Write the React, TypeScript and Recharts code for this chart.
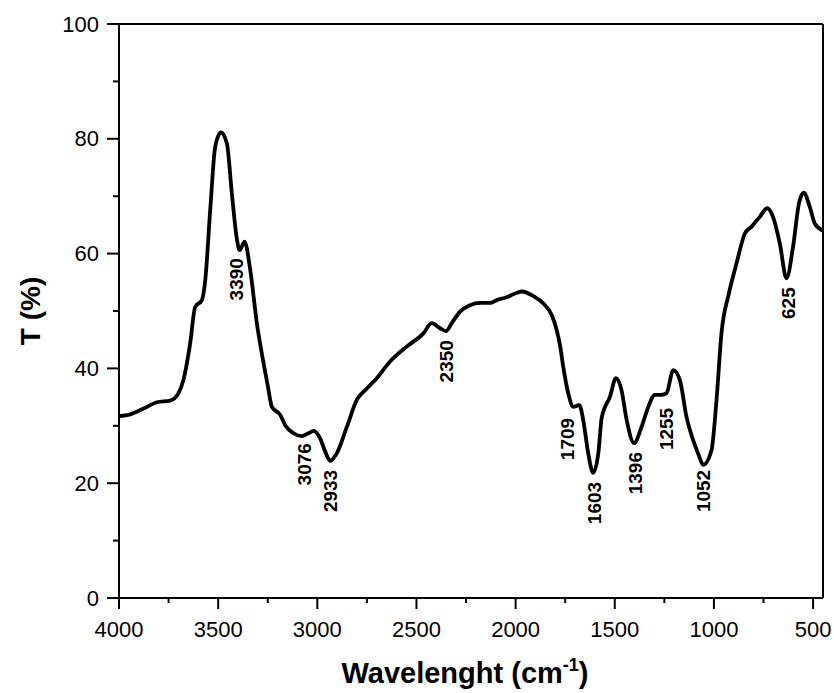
import React from "react";
import { LineChart, Line, XAxis, YAxis, ReferenceLine, ReferenceDot } from "recharts";

// FTIR spectrum
const wavenumber = [
  4000, 3943, 3876, 3809, 3741, 3700, 3675, 3641, 3616, 3582, 3565, 3540, 3515, 3486, 3456, 3431,
  3405, 3392, 3367, 3338, 3305, 3271, 3250, 3229, 3187, 3162, 3120, 3078, 3045, 3019, 2986, 2960,
  2935, 2902, 2851, 2801, 2750, 2700, 2633, 2549, 2465, 2423, 2381, 2351, 2322, 2280, 2230, 2179,
  2129, 2095, 2045, 2012, 1969, 1911, 1860, 1818, 1793, 1776, 1760, 1735, 1709, 1679, 1659, 1634,
  1609, 1583, 1566, 1524, 1494, 1466, 1440, 1403, 1365, 1331, 1298, 1264, 1239, 1205, 1172, 1138,
  1105, 1080, 1054, 1012, 987, 962, 925, 886, 844, 810, 769, 732, 702, 668, 634, 601, 571, 547, 517,
  491, 450,
];
const transmittance = [
  31.7, 32.0, 33.0, 34.1, 34.4, 35.7, 38.0, 44.4, 50.7, 51.9, 55.4, 67.6, 78.6, 81.1, 79.2, 70.5,
  62.4, 60.6, 62.1, 57.1, 47.9, 40.9, 37.0, 33.3, 31.9, 30.1, 28.7, 28.2, 28.7, 29.1, 27.8, 25.5,
  23.9, 25.2, 29.8, 34.5, 36.5, 38.3, 41.2, 43.8, 46.1, 47.9, 47.0, 46.5, 47.9, 49.9, 51.0, 51.4,
  51.4, 51.9, 52.4, 52.9, 53.4, 52.6, 51.3, 49.3, 46.7, 44.0, 40.3, 35.7, 33.3, 33.6, 31.0, 25.2,
  21.8, 25.2, 31.4, 35.1, 38.3, 36.2, 31.0, 27.0, 29.8, 33.3, 35.4, 35.4, 35.7, 39.7, 38.0, 31.5,
  27.5, 25.2, 23.2, 25.8, 34.5, 46.1, 53.0, 58.3, 63.5, 64.7, 66.4, 67.9, 66.4, 61.8, 55.7, 61.2,
  68.8, 70.6, 68.2, 65.2, 64.0,
];

const peakLabels = ["3390", "3076", "2933", "2350", "1709", "1603", "1396", "1255", "1052", "625"];
const peakWavenumber = [3390, 3076, 2933, 2350, 1709, 1603, 1396, 1255, 1052, 625];
const peakTransmittance = [60.6, 28.2, 23.9, 46.5, 33.3, 21.8, 27.0, 35.4, 23.2, 55.7];

const xTicks = [4000, 3750, 3500, 3250, 3000, 2750, 2500, 2250, 2000, 1750, 1500, 1250, 1000, 750, 500];
const yTicks = [0, 10, 20, 30, 40, 50, 60, 70, 80, 90, 100];

const data = wavenumber.map((wn, i) => ({ wn, t: transmittance[i] }));

const FONT = "'Liberation Sans', Arial, sans-serif";

// small nudges so labels sit where the original author put them
const labelShift: Record<string, [number, number]> = {
  "3390": [-3, 8],
  "3076": [2, 7],
  "1709": [-6, 11],
  "1255": [3, 13],
  "1052": [0, 5],
};

function XTick(props: any) {
  const { x, y, payload } = props;
  const major = payload.value % 500 === 0;
  return (
    <g>
      <line x1={x} y1={y} x2={x} y2={y + (major ? 11 : 5)} stroke="#000" strokeWidth={2} />
      {major && (
        <text x={x} y={y + 31} textAnchor="middle" dominantBaseline="central" fontSize={22} fontFamily={FONT} fill="#000">
          {payload.value}
        </text>
      )}
    </g>
  );
}

function YTick(props: any) {
  const { x, y, payload } = props;
  const major = payload.value % 20 === 0;
  return (
    <g>
      <line x1={x} y1={y} x2={x - (major ? 12 : 6)} y2={y} stroke="#000" strokeWidth={2} />
      {major && (
        <text x={x - 20} y={y} textAnchor="end" dominantBaseline="central" fontSize={22} fontFamily={FONT} fill="#000">
          {payload.value}
        </text>
      )}
    </g>
  );
}

function PeakLabel(text: string) {
  return (props: any) => {
    const [dx, dy] = labelShift[text] ?? [0, 9];
    const x = props.cx + dx;
    const y = props.cy + dy;
    return (
      <text
        x={x}
        y={y}
        transform={`rotate(-90 ${x} ${y})`}
        textAnchor="end"
        dominantBaseline="central"
        fontSize={19}
        fontWeight="bold"
        fontFamily={FONT}
        fill="#000"
      >
        {text}
      </text>
    );
  };
}

export default function App() {
  return (
    <div style={{ width: 834, height: 693, background: "#fff" }}>
      <style>{"body{margin:0}"}</style>
      <LineChart width={834} height={693} data={data} margin={{ top: 24, right: 11, bottom: 0, left: 0 }}>
        <XAxis
          dataKey="wn"
          type="number"
          domain={[450, 4000]}
          reversed
          allowDataOverflow
          ticks={xTicks}
          interval={0}
          tickLine={false}
          tickSize={0}
          tickMargin={0}
          tick={<XTick />}
          axisLine={{ stroke: "#000", strokeWidth: 2 }}
          height={95}
          label={{
            content: (p: any) => {
              const vb = p.viewBox;
              const cx = vb.x + vb.width / 2 - 6;
              return (
                <text x={cx} y={vb.y + 85} textAnchor="middle" fontSize={29} fontWeight="bold" fontFamily={FONT} fill="#000">
                  Wavelenght (cm
                  <tspan fontSize={18} dy={-12}>-1</tspan>
                  <tspan dy={12}>)</tspan>
                </text>
              );
            },
          }}
        />
        <YAxis
          type="number"
          domain={[0, 100]}
          ticks={yTicks}
          interval={0}
          tickLine={false}
          tickSize={0}
          tickMargin={0}
          tick={<YTick />}
          axisLine={{ stroke: "#000", strokeWidth: 2 }}
          width={119}
          label={{
            content: (p: any) => {
              const vb = p.viewBox;
              const x = 30;
              const y = vb.y + vb.height / 2;
              return (
                <text
                  x={x}
                  y={y}
                  transform={`rotate(-90 ${x} ${y})`}
                  textAnchor="middle"
                  dominantBaseline="central"
                  fontSize={28}
                  fontWeight="bold"
                  fontFamily={FONT}
                  fill="#000"
                >
                  T (%)
                </text>
              );
            },
          }}
        />
        <ReferenceLine y={100} stroke="#000" strokeWidth={2} />
        <ReferenceLine x={450} stroke="#000" strokeWidth={2} />
        <Line
          dataKey="t"
          type="monotone"
          stroke="#000"
          strokeWidth={3.8}
          dot={false}
          isAnimationActive={false}
        />
        {peakLabels.map((label, i) => (
          <ReferenceDot
            key={label}
            x={peakWavenumber[i]}
            y={peakTransmittance[i]}
            r={0}
            shape={PeakLabel(label)}
          />
        ))}
      </LineChart>
    </div>
  );
}
